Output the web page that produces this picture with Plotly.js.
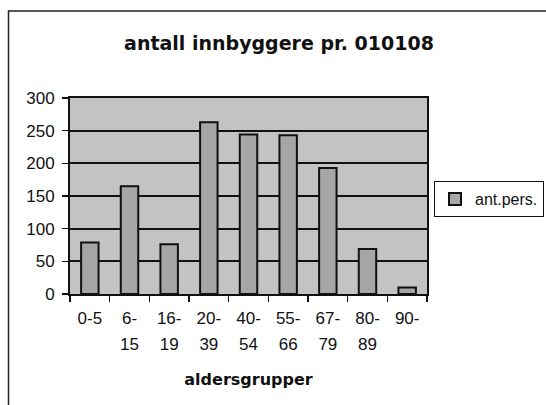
<!DOCTYPE html>
<html>
<head>
<meta charset="utf-8">
<script src="https://cdn.plot.ly/plotly-3.0.1.min.js"></script>
<style>html,body{margin:0;padding:0;background:#fff;}#chart{width:546px;height:405px;}</style>
</head>
<body>
<div id="chart"></div>
<script>
const categories = ["0-5", "6-15", "16-19", "20-39", "40-54", "55-66", "67-79", "80-89", "90-"];
const labelTop = ["0-5", "6-", "16-", "20-", "40-", "55-", "67-", "80-", "90-"];
const labelBottom = ["", "15", "19", "39", "54", "66", "79", "89", ""];
const values = [79, 165, 76, 263, 244, 243, 193, 69, 10];
const seriesName = "ant.pers.";
const yTicks = [0, 50, 100, 150, 200, 250, 300];

const font = "Liberation Sans, Arial, sans-serif";
const boldFont = "DejaVu Sans, Liberation Sans, sans-serif";

const trace = {
  type: "bar",
  x: categories,
  y: values,
  name: seriesName,
  marker: { color: "#a6a6a6", line: { color: "#111", width: 2 } },
  showlegend: true,
  hoverinfo: "skip"
};

const ghost = {
  type: "bar",
  x: categories,
  y: values,
  xaxis: "x2",
  yaxis: "y",
  opacity: 0,
  showlegend: false,
  hoverinfo: "skip",
  marker: { color: "rgba(0,0,0,0)" }
};

const layout = {
  width: 546,
  height: 405,
  margin: { l: 70, r: 119, t: 98, b: 111, autoexpand: false },
  paper_bgcolor: "#ffffff",
  plot_bgcolor: "#c3c3c3",
  bargap: 0.56,
  title: {
    text: "<b>antall innbyggere pr. 010108</b>",
    font: { family: boldFont, size: 19, color: "#111" },
    x: 279 / 546, xanchor: "center", xref: "container",
    y: 1 - 43 / 405, yanchor: "middle", yref: "container"
  },
  xaxis: {
    type: "category",
    categoryarray: categories,
    tickmode: "array",
    tickvals: categories,
    ticktext: labelTop,
    tickson: "boundaries",
    ticks: "outside",
    ticklen: 6,
    tickwidth: 1.5,
    tickcolor: "#111",
    ticklabelstandoff: 8,
    showline: true,
    linecolor: "#111",
    linewidth: 2,
    mirror: true,
    showgrid: false,
    tickfont: { family: font, size: 17, color: "#111" },
    fixedrange: true
  },
  xaxis2: {
    type: "category",
    categoryarray: categories,
    overlaying: "x",
    anchor: "y",
    side: "bottom",
    tickmode: "array",
    tickvals: categories,
    ticktext: labelBottom,
    ticks: "",
    ticklabelstandoff: 38,
    showline: false,
    showgrid: false,
    zeroline: false,
    tickfont: { family: font, size: 17, color: "#111" },
    title: { text: "<b>aldersgrupper</b>", font: { family: boldFont, size: 16, color: "#111" }, standoff: 20 },
    fixedrange: true
  },
  yaxis: {
    range: [0, 300],
    tickvals: yTicks,
    ticktext: yTicks.map(String),
    ticks: "outside",
    ticklen: 6,
    tickwidth: 1.5,
    tickcolor: "#111",
    ticklabelstandoff: 4,
    showline: true,
    linecolor: "#111",
    linewidth: 2,
    mirror: true,
    showgrid: true,
    gridcolor: "#111",
    gridwidth: 2,
    zeroline: false,
    tickfont: { family: font, size: 17, color: "#111" },
    fixedrange: true
  },
  legend: {
    x: (434 - 70) / 357, xanchor: "left",
    y: (294 - 181) / 196, yanchor: "top",
    bgcolor: "#ffffff",
    bordercolor: "#111",
    borderwidth: 1,
    font: { family: font, size: 16, color: "#111" },
    itemwidth: 30
  },
  shapes: [
    {
      type: "rect", xref: "paper", yref: "paper",
      x0: (8.5 - 70) / 357, x1: (560 - 70) / 357,
      y0: (294 - 420) / 196, y1: (294 - 11) / 196,
      line: { color: "#222", width: 1.5 },
      fillcolor: "rgba(0,0,0,0)",
      layer: "below"
    }
  ]
};

Plotly.newPlot("chart", [trace, ghost], layout, { displayModeBar: false, staticPlot: true });
</script>
</body>
</html>
